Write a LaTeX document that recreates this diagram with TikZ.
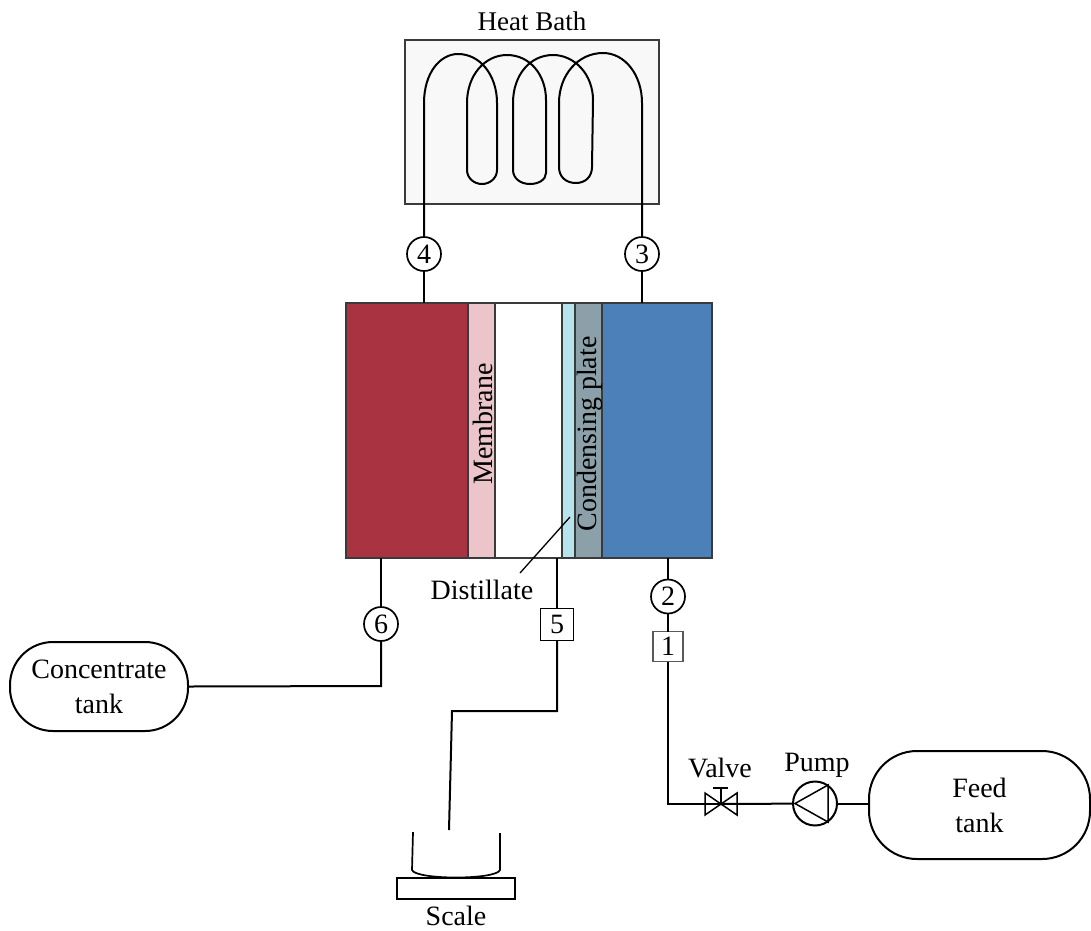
\documentclass[tikz,border=0pt]{standalone}
\usepackage{fontspec}
\setmainfont{Liberation Serif}
\usetikzlibrary{arrows.meta, positioning, calc}

\definecolor{hotred}{HTML}{A93341}
\definecolor{coldblue}{HTML}{4C80B8}
\definecolor{membpink}{HTML}{EBC5C9}
\definecolor{plategray}{HTML}{8BA0A8}
\definecolor{distblue}{HTML}{B7E3EC}
\definecolor{bathgray}{HTML}{F8F8F8}
\definecolor{edgegray}{HTML}{3A3A3A}

\tikzset{
    every node/.style={font=\fontsize{28}{35}\selectfont, inner sep=0pt, outer sep=0pt},
    pipe/.style={line width=2pt, black},
    layer/.style={draw=edgegray, line width=1.5pt, minimum height=255pt},
    probe/.style={circle, draw, line width=1.7pt, fill=white, minimum size=34pt},
    gauge/.style={rectangle, draw, line width=1.7pt, fill=white, minimum width=33pt, minimum height=32pt},
    tank/.style={rectangle, draw, line width=2pt, align=center},
}

\begin{document}
\begin{tikzpicture}[x=1pt, y=-1pt]
    \useasboundingbox (0,0) rectangle (1091,930);

    % Heat bath
    \node[draw=edgegray, line width=1.5pt, fill=bathgray, minimum width=254pt, minimum height=164pt] (bath) at (532,122) {};
    \node[font=\fontsize{27}{31}\selectfont] (bathlabel) at (532,21) {Heat Bath};

    % Module layers
    \node[layer, fill=hotred, minimum width=122pt] (hot) at (407,430.5) {};
    \node[layer, fill=membpink, minimum width=27pt] (membrane) at (481.5,430.5) {};
    \node[layer, fill=white, minimum width=67pt] (gap) at (528.5,430.5) {};
    \node[layer, fill=distblue, minimum width=13pt] (film) at (568.5,430.5) {};
    \node[layer, fill=plategray, minimum width=27pt] (plate) at (588.5,430.5) {};
    \node[layer, fill=coldblue, minimum width=110pt] (cold) at (657,430.5) {};
    \node[rotate=90] (membranelabel) at (482.5,424) {Membrane};
    \node[rotate=90] (platelabel) at (590,434) {Condensing plate};
    \node (distlabel) at (482,590) {Distillate};
    \coordinate (distend) at (570,517);
    \coordinate (distfoot) at (520,573);
    \draw[line width=1.3pt] (distfoot) -- (distend);

    % Sensors
    \node[probe] (t4) at (424,254) {4};
    \node[probe] (t3) at (642,254) {3};
    \node[probe] (t2) at (668,596.5) {2};
    \node[probe] (t6) at (381,624) {6};
    \node[gauge] (g5) at (557,624.5) {5};
    \node[gauge, draw=black!65, line width=1.3pt, minimum width=30pt, minimum height=30pt] (g1) at (668,646.5) {1};

    % Tanks
    \node[tank, rounded corners=43pt, minimum width=178pt, minimum height=89pt] (conc) at (99,686.5) {Concentrate\\tank};
    \node[tank, rounded corners=48pt, minimum width=221pt, minimum height=108pt] (feed) at (979.5,805) {Feed\\tank};

    % Valve and pump
    \coordinate (valve) at (721,804);
    \node[circle, draw, line width=2pt, minimum size=44pt] (pump) at (815,803.5) {};
    \node (valvelabel) at (720,768) {Valve};
    \node (pumplabel) at (817,765) {Pump};
    \draw[line width=1.5pt] (pump.west) ++(2,0) -- (828,785) -- (828,822) -- cycle;
    \draw[line width=1.5pt] (valve) -- (705,793) -- (705,815) -- cycle;
    \draw[line width=1.5pt] (valve) -- (737,793) -- (737,815) -- cycle;
    \draw[line width=1.5pt] (valve) -- (721,788);
    \draw[line width=1.5pt] (713,788) -- (728,788);

    % Coil
    \draw[pipe] (t4) -- (424,103)
        .. controls (424,73) and (440,54) .. (458,54)
        .. controls (480,54) and (497,75) .. (497,103) -- (497,170)
        .. controls (497,178) and (490,184) .. (482,184)
        .. controls (474,184) and (467,178) .. (467,170) -- (467,103)
        .. controls (467,75) and (485,55) .. (507,55)
        .. controls (530,55) and (546,75) .. (546,100) -- (546,173)
        .. controls (546,180) and (538,184) .. (530,184)
        .. controls (520,184) and (513,178) .. (513,170) -- (513,103)
        .. controls (513,75) and (530,55) .. (553,55)
        .. controls (575,55) and (593,75) .. (593,100) -- (592,167)
        .. controls (592,177) and (585,183) .. (576,183)
        .. controls (566,183) and (559,177) .. (559,167) -- (559,103)
        .. controls (559,75) and (578,53) .. (603,53)
        .. controls (625,53) and (642,75) .. (642,103) -- (t3);

    % Pipes
    \draw[pipe] (t4) -- (t4 |- hot.north);
    \draw[pipe] (t3) -- (t3 |- cold.north);
    \draw[pipe] (t2) -- (t2 |- cold.south);
    \draw[pipe] (t2) -- (g1);
    \draw[pipe] (t6) -- (t6 |- hot.south);
    \draw[pipe] (g5) -- (g5 |- gap.south);
    \draw[pipe] (conc.east) -- (381,686) -- (t6);
    \draw[pipe] (g1) -- (668,804) -- (valve);
    \draw[pipe] (valve) -- (pump);
    \draw[pipe] (pump) -- (feed.west |- pump);
    \coordinate (dropend) at (449,830);
    \draw[pipe] (g5) -- (557,711) -- (452,711) -- (dropend);

    % Beaker and scale
    \draw[line width=1.7pt] (413,832) -- (412,870)
        .. controls (416,880) and (496,880) .. (500,870) -- (500,833);
    \node[draw, line width=1.5pt, minimum width=118pt, minimum height=21pt] (scale) at (456,888.5) {};
    \node (scalelabel) at (456,916) {Scale};
\end{tikzpicture}
\end{document}
